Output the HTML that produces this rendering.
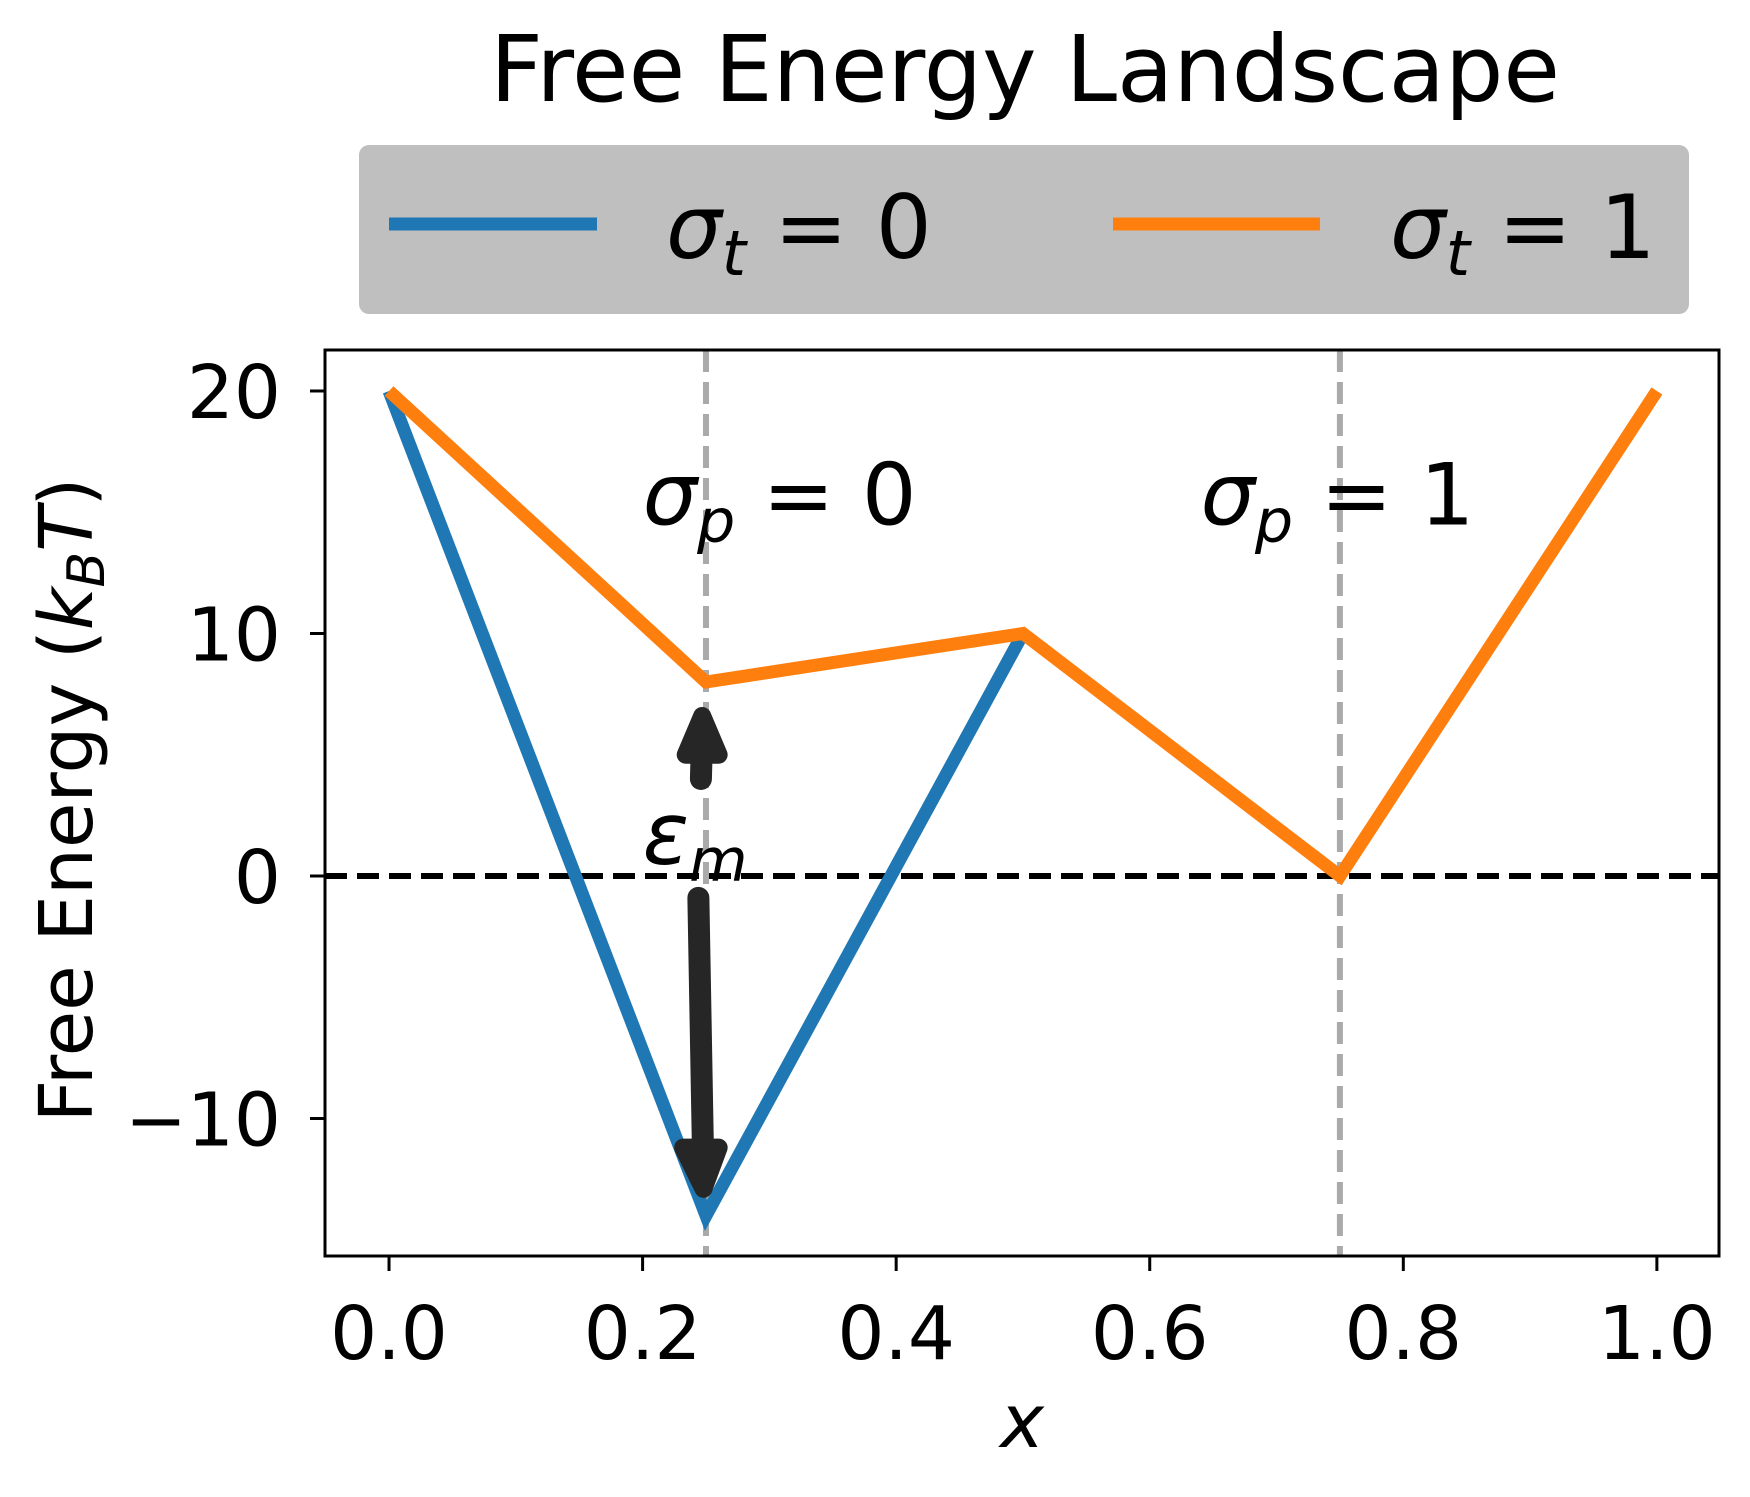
<!DOCTYPE html>
<html><head><meta charset="utf-8"><style>
html,body{margin:0;padding:0;background:#fff}
svg text{font-family:"DejaVu Sans","Liberation Sans",sans-serif}
</style></head><body>
<svg id="chart" width="1750" height="1492" viewBox="0 0 1750 1492" xmlns="http://www.w3.org/2000/svg">
<text x="1025" y="101" font-size="92" text-anchor="middle">Free Energy Landscape</text>
<g>
<rect x="359" y="145" width="1330" height="169" rx="10" fill="#bfbfbf"/>
<line x1="389" y1="224" x2="597" y2="224" stroke="#1f77b4" stroke-width="13"/>
<text x="666" y="258" font-size="88" font-style="italic">σ<tspan font-size="62" dy="17">t</tspan><tspan font-style="normal" dy="-17"> = 0</tspan></text>
<line x1="1113" y1="224" x2="1320" y2="224" stroke="#ff7f0e" stroke-width="13"/>
<text x="1390" y="258" font-size="88" font-style="italic">σ<tspan font-size="62" dy="17">t</tspan><tspan font-style="normal" dy="-17"> = 1</tspan></text>
</g>
<g id="plot"></g>
<text x="1022" y="1447" font-size="74" font-style="italic" text-anchor="middle">x</text>
<text transform="translate(92,800) rotate(-90)" font-size="74" text-anchor="middle">Free Energy (<tspan font-style="italic">k</tspan><tspan font-style="italic" font-size="52" dy="12">B</tspan><tspan font-style="italic" dy="-12">T</tspan>)</text>
</svg>
<script>
const xTicks=[0.0,0.2,0.4,0.6,0.8,1.0];
const xTickLabels=["0.0","0.2","0.4","0.6","0.8","1.0"];
const yTicks=[-10,0,10,20];
const yTickLabels=["\u221210","0","10","20"];
const blueX=[0,0.25,0.5];
const blueY=[20,-14,10];
const orangeX=[0,0.25,0.5,0.75,1.0];
const orangeY=[20,8,10,0,20];
const vlines=[0.25,0.75];

const L=325,R=1719,T=350,B=1256;
const xmin=-0.0505,xmax=1.049,ymin=-15.67,ymax=21.69;
const sx=v=>L+(v-xmin)/(xmax-xmin)*(R-L);
const sy=v=>B-(v-ymin)/(ymax-ymin)*(B-T);
const NS="http://www.w3.org/2000/svg";
const g=document.getElementById('plot');
function mk(tag,attrs){const e=document.createElementNS(NS,tag);for(const k in attrs)e.setAttribute(k,attrs[k]);g.appendChild(e);return e;}

vlines.forEach(v=>{
 const e=mk('line',{x1:sx(v),x2:sx(v),y1:T,y2:B,stroke:'#aaaaaa','stroke-width':6,'stroke-dasharray':'22 10'});
 
 
});
const zl=mk('line',{x1:L,x2:R,y1:sy(0),y2:sy(0),stroke:'#000','stroke-width':6,'stroke-dasharray':'22 10'});



const bp=mk('polyline',{points:blueX.map((x,i)=>sx(x)+','+sy(blueY[i])).join(' '),fill:'none',stroke:'#1f77b4','stroke-width':13,'stroke-linejoin':'miter'});


const op=mk('polyline',{points:orangeX.map((x,i)=>sx(x)+','+sy(orangeY[i])).join(' '),fill:'none',stroke:'#ff7f0e','stroke-width':13,'stroke-linejoin':'miter'});



const a1=mk('path',{d:`M${sx(0.244)},${sy(-0.9)} L${sx(0.248)},${sy(-12.5)}`,stroke:'#262626','stroke-width':22,'stroke-linecap':'round',fill:'none'});


const h1=mk('path',{d:`M${sx(0.232)},${sy(-11.2)} L${sx(0.26)},${sy(-11.2)} L${sx(0.248)},${sy(-12.9)} Z`,fill:'#262626',stroke:'#262626','stroke-width':18,'stroke-linejoin':'round'});


const a2=mk('path',{d:`M${sx(0.246)},${sy(4)} L${sx(0.247)},${sy(6)}`,stroke:'#262626','stroke-width':22,'stroke-linecap':'round',fill:'none'});


const h2=mk('path',{d:`M${sx(0.234)},${sy(5)} L${sx(0.26)},${sy(5)} L${sx(0.247)},${sy(6.6)} Z`,fill:'#262626',stroke:'#262626','stroke-width':18,'stroke-linejoin':'round'});



function label(txt,sub,x,y,name){
 const t=mk('text',{x:x,y:y,'font-size':86,'font-style':'italic'});
 
 
 t.innerHTML=txt+`<tspan font-size="60" dy="17">${sub}</tspan>`;
 return t;
}
const e=label('ε','m',sx(0.2),sy(0.5),'epsilon-m-label');
const p0=label('σ','p',sx(0.2),sy(14.5),'sigma-p-0-label');
p0.innerHTML+='<tspan font-style="normal" dy="-17"> = 0</tspan>';
const p1=label('σ','p',sx(0.64),sy(14.5),'sigma-p-1-label');
p1.innerHTML+='<tspan font-style="normal" dy="-17"> = 1</tspan>';

const fr=mk('rect',{x:L,y:T,width:R-L,height:B-T,fill:'none',stroke:'#000','stroke-width':3});



xTicks.forEach((v,i)=>{
 const tk=mk('line',{x1:sx(v),x2:sx(v),y1:B,y2:B+15,stroke:'#000','stroke-width':3});
 
 
 const t=mk('text',{x:sx(v),y:B+103,'font-size':74,'text-anchor':'middle'});
 t.textContent=xTickLabels[i];
 
 
});
yTicks.forEach((v,i)=>{
 const tk=mk('line',{x1:L-15,x2:L,y1:sy(v),y2:sy(v),stroke:'#000','stroke-width':3});
 
 
 const t=mk('text',{x:L-44,y:sy(v)+27,'font-size':74,'text-anchor':'end'});
 t.textContent=yTickLabels[i];
 
 
});
</script>
</body></html>
